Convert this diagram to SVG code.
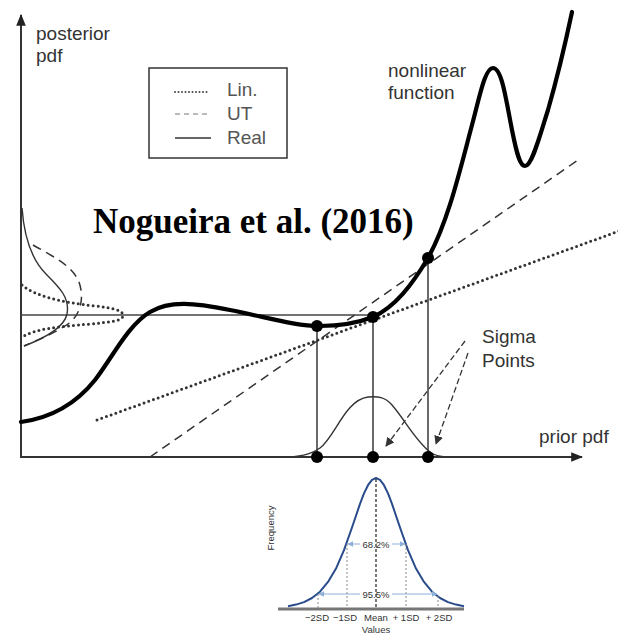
<svg xmlns="http://www.w3.org/2000/svg" width="618" height="635" viewBox="0 0 618 635">
<style>
.lbl{font-family:"Liberation Sans",Arial,sans-serif;font-size:19px;fill:#333}
.leg{font-family:"Liberation Sans",Arial,sans-serif;font-size:19px;fill:#555}
.small{font-family:"Liberation Sans",Arial,sans-serif;font-size:9.5px;fill:#333}
.axis{stroke:#333;stroke-width:2;fill:none}
.thin{stroke:#444;stroke-width:1.6;fill:none}
.func{stroke:#000;stroke-width:4.2;fill:none;stroke-linecap:round;stroke-linejoin:round}
.dotted{stroke:#333;stroke-width:3;fill:none;stroke-dasharray:0 5;stroke-linecap:round}
.dashed{stroke:#333;stroke-width:1.5;fill:none;stroke-dasharray:9 6}
.real{stroke:#333;stroke-width:1.4;fill:none}
.sp{fill:#000}
.blue{stroke:#2b4c8c;stroke-width:2;fill:none}
.sd{stroke:#888;stroke-width:1;stroke-dasharray:2 2;fill:none}
.pct{stroke:#8fb0d8;stroke-width:1;fill:none}
</style>
<defs>
<marker id="ah" viewBox="0 0 10 10" refX="9" refY="5" markerWidth="9" markerHeight="9" markerUnits="userSpaceOnUse" orient="auto"><path d="M0,0 L10,5 L0,10 z" fill="#333"/></marker>
<marker id="axh" viewBox="0 0 10 10" refX="9" refY="5" markerWidth="12" markerHeight="12" markerUnits="userSpaceOnUse" orient="auto"><path d="M0,1 L10,5 L0,9 z" fill="#222"/></marker>
<marker id="bh" viewBox="0 0 10 10" refX="9" refY="5" markerWidth="6" markerHeight="6" markerUnits="userSpaceOnUse" orient="auto"><path d="M0,0 L10,5 L0,10 z" fill="#8fb0d8"/></marker>
</defs>

<g id="connectors">
<line class="axis" x1="21" y1="458" x2="21" y2="15" marker-end="url(#axh)"/>
<line class="axis" x1="21" y1="457" x2="582" y2="457" marker-end="url(#axh)"/>
<line class="thin" x1="21" y1="315" x2="373" y2="315"/>
<line class="thin" x1="317" y1="326" x2="317" y2="457"/>
<line class="thin" x1="373" y1="317" x2="373" y2="457"/>
<line class="thin" x1="428" y1="258" x2="428" y2="457"/>
<line class="dotted" x1="97" y1="420" x2="622" y2="230"/>
<line class="dashed" x1="150" y1="457" x2="578" y2="160"/>
<line stroke="#333" stroke-width="1.3" stroke-dasharray="6 3" x1="465" y1="341" x2="386" y2="446" marker-end="url(#ah)"/>
<line stroke="#333" stroke-width="1.3" stroke-dasharray="6 3" x1="468" y1="353" x2="436" y2="444" marker-end="url(#ah)"/>
</g>

<g id="nonlinear-function">
<path class="func" d="M21,422 C50,418 75,405 95,380 C112,358 128,325 150,312 C170,300 195,303 230,310 C270,318 295,326 320,326 C345,326 360,322 373,317 C395,307 412,285 428,258 C448,222 460,170 472,125 C480,95 485,68 493,68 C502,68 506,100 512,130 C517,155 520,166 525,166 C532,166 540,135 548,110 C556,82 565,45 572,12"/>
<text class="lbl" x="388" y="77">nonlinear</text>
<text class="lbl" x="388" y="99">function</text>
</g>

<g id="prior-pdf">
<path class="real" d="M280,457 C300,457 310,455 320,448 C335,437 345,400 368,397 C378,396 385,397 392,405 C405,420 415,440 430,452 C435,456 440,457 450,457"/>
<text class="lbl" x="539" y="443">prior pdf</text>
</g>

<g id="posterior-pdfs">
<path class="real" d="M22,208 C24,235 30,258 46,274 C60,288 70,298 67,314 C64,328 45,338 24,346"/>
<path class="dashed" d="M33,245 C52,256 72,265 79,282 C84,296 82,314 68,324 C55,333 40,339 24,346"/>
<path class="dotted" d="M22,285 C35,296 60,302 95,306 C115,308 124,311 123,316 C122,321 110,322 90,324 C55,327 35,329 22,337"/>
<text class="lbl" x="36" y="40">posterior</text>
<text class="lbl" x="36" y="62">pdf</text>
</g>

<g id="sigma-points">
<circle class="sp" cx="317" cy="326" r="6"/>
<circle class="sp" cx="373" cy="317" r="6"/>
<circle class="sp" cx="428" cy="258" r="6"/>
<circle class="sp" cx="317" cy="457" r="6"/>
<circle class="sp" cx="373" cy="457" r="6"/>
<circle class="sp" cx="428" cy="457" r="6"/>
<text class="lbl" x="482" y="343">Sigma</text>
<text class="lbl" x="482" y="367">Points</text>
</g>

<g id="legend">
<rect x="149" y="68" width="138" height="90" fill="#fff" stroke="#333" stroke-width="1.5"/>
<line x1="175" y1="92" x2="210" y2="92" stroke="#444" stroke-width="2" stroke-dasharray="0 3.5" stroke-linecap="round"/>
<line x1="175" y1="114" x2="210" y2="114" stroke="#777" stroke-width="1.2" stroke-dasharray="5 4"/>
<line x1="175" y1="138" x2="211" y2="138" stroke="#333" stroke-width="1.6"/>
<text class="leg" x="227" y="96">Lin.</text>
<text class="leg" x="227" y="120">UT</text>
<text class="leg" x="227" y="144">Real</text>
</g>

<g id="title">
<text x="93" y="233" font-family="'Liberation Serif','Times New Roman',serif" font-weight="bold" font-size="35" fill="#000">Nogueira et al. (2016)</text>
</g>

<g id="normal-distribution">
<line x1="278" y1="609" x2="464" y2="609" stroke="#777" stroke-width="3"/>
<polyline class="blue" stroke-linejoin="round" points="288,606.3 296,604.6 304,602.1 312,598 320,591.7 328,581.9 336,568.6 344,550.2 352,527.5 360,503.9 364,493.4 368,485.2 372,479.8 376,478 380,479.8 384,485.2 388,493.4 392,503.9 400,527.5 408,550.2 416,568.6 424,581.9 432,591.7 440,598 448,602.1 456,604.6 464,606.3"/>
<line class="sd" x1="318" y1="594" x2="318" y2="608"/>
<line class="sd" x1="347" y1="544" x2="347" y2="608"/>
<line x1="376" y1="479" x2="376" y2="608" stroke="#222" stroke-width="1.2" stroke-dasharray="3 2"/>
<line class="sd" x1="406" y1="544" x2="406" y2="608"/>
<line class="sd" x1="438" y1="596" x2="438" y2="608"/>
<line class="pct" x1="360" y1="544" x2="348" y2="544" marker-end="url(#bh)"/>
<line class="pct" x1="392" y1="544" x2="405" y2="544" marker-end="url(#bh)"/>
<line class="pct" x1="360" y1="594" x2="319" y2="594" marker-end="url(#bh)"/>
<line class="pct" x1="392" y1="594" x2="437" y2="594" marker-end="url(#bh)"/>
<text class="small" x="376" y="547.5" text-anchor="middle">68.2%</text>
<text class="small" x="376" y="597.5" text-anchor="middle">95.5%</text>
<text class="small" x="317" y="621" text-anchor="middle">−2SD</text>
<text class="small" x="345" y="621" text-anchor="middle">−1SD</text>
<text class="small" x="376" y="621" text-anchor="middle">Mean</text>
<text class="small" x="406" y="621" text-anchor="middle">+ 1SD</text>
<text class="small" x="439" y="621" text-anchor="middle">+ 2SD</text>
<text class="small" x="376" y="633" text-anchor="middle">Values</text>
<text class="small" font-size="10" transform="translate(274,528) rotate(-90)" text-anchor="middle">Frequency</text>
</g>
</svg>
